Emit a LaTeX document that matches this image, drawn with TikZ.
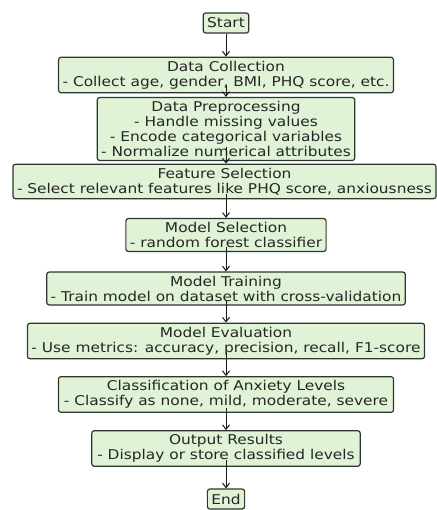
\documentclass[tikz,border=0pt]{standalone}
\usepackage{fontspec}
\setmainfont{DejaVu Sans}[FakeStretch=1.14]
\usepackage{tikz}
\usepackage{xcolor}
\usetikzlibrary{arrows.meta}
\definecolor{boxgreen}{RGB}{224,243,214}
\definecolor{boxline}{RGB}{45,55,45}

\begin{document}
\begin{tikzpicture}[x=1pt,y=1pt]%
  \tikzstyle{stage}=[rectangle,rounded corners=2.5pt,draw=boxline,line width=1.2pt,fill=boxgreen,text=black!85,align=center,inner xsep=4pt,inner ysep=3.75pt,font=\fontsize{13.5}{15}\selectfont]
  \tikzstyle{term}=[stage,minimum height=20pt,inner xsep=4pt]
  \tikzstyle{flow}=[-{Straight Barb[length=4.5pt,width=7pt]},line width=1pt,black!90]
  \useasboundingbox (0,0) rectangle (436,-510);
  \node(start)[term] at (226,-23) {Start};
  \node(collect)[stage] at (226,-75) {Data Collection\\- Collect age, gender, BMI, PHQ score, etc.};
  \node(preproc)[stage] at (226,-129) {Data Preprocessing\\- Handle missing values\\- Encode categorical variables\\- Normalize numerical attributes};
  \node(featsel)[stage] at (224.5,-181.5) {Feature Selection\\- Select relevant features like PHQ score, anxiousness};
  \node(modelsel)[stage] at (226,-235) {Model Selection\\- random forest classifier};
  \node(train)[stage] at (226,-288.5) {Model Training\\- Train model on dataset with cross-validation};
  \node(evaluate)[stage] at (226,-341) {Model Evaluation\\- Use metrics: accuracy, precision, recall, F1-score};
  \node(classify)[stage,inner xsep=5.5pt] at (226,-394.5) {Classification of Anxiety Levels\\- Classify as none, mild, moderate, severe};
  \node(output)[stage,inner xsep=5.5pt] at (226,-448.5) {Output Results\\- Display or store classified levels};
  \node(finish)[term] at (226,-499) {End};
  % arrows, drawn over the boxes
  \draw[flow] (start.south) -- (collect.north);
  \draw[flow] ([yshift=7pt]collect.south) -- (preproc.north);
  \draw[flow] ([yshift=14pt]preproc.south) -- (preproc.south |- featsel.north);
  \draw[flow] ([yshift=5pt]featsel.south -| modelsel.north) -- (modelsel.north);
  \draw[flow] ([yshift=5pt]modelsel.south) -- (train.north);
  \draw[flow] ([yshift=5pt]train.south) -- (evaluate.north);
  \draw[flow] ([yshift=7pt]evaluate.south) -- (classify.north);
  \draw[flow] ([yshift=5pt]classify.south) -- (output.north);
  \draw[flow] ([yshift=7pt]output.south) -- (finish.north);
\end{tikzpicture}
\end{document}
